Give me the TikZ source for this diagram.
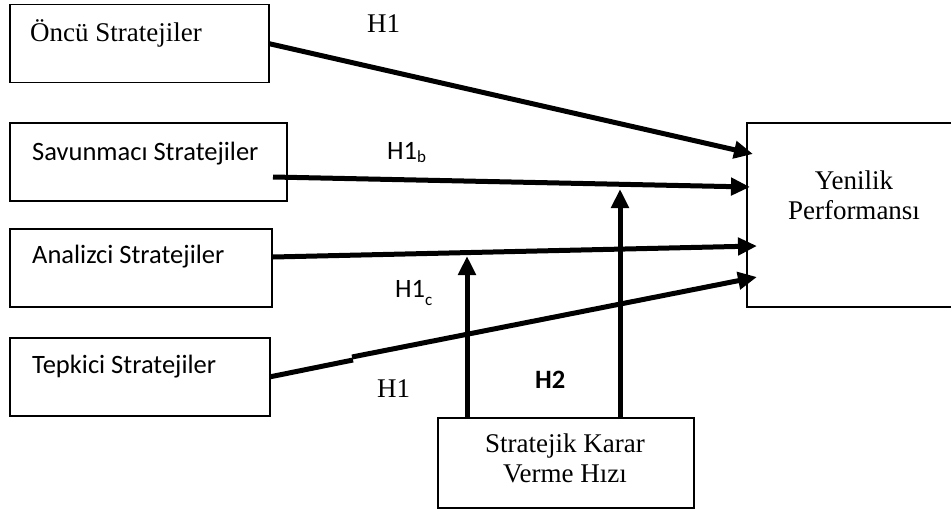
\documentclass[tikz,border=0pt]{standalone}
\usepackage{fontspec}
\setmainfont{Liberation Serif}
\newfontfamily\calib{Carlito}
\usetikzlibrary{arrows.meta,calc}
\begin{document}
\begin{tikzpicture}[x=1pt,y=-1pt,
  box/.style={draw,line width=1.5pt,inner sep=0pt},
  arr/.style={line width=5pt,-{Triangle[length=19pt,width=17pt]}},
  plain/.style={line width=5pt},
  ser/.style={font=\fontsize{27}{30}\selectfont,inner sep=0pt},
  san/.style={font=\calib\fontsize{26.5}{30}\selectfont,inner sep=0pt},
  sanb/.style={font=\calib\bfseries\fontsize{26.5}{30}\selectfont,inner sep=0pt}]
\useasboundingbox (0,0) rectangle (951,511);
% boxes
\node[box,minimum width=259pt,minimum height=78pt,anchor=north west] (onc) at (9,4) {};
\node[box,minimum width=277pt,minimum height=78pt,anchor=north west] (sav) at (9,122) {};
\node[box,minimum width=262pt,minimum height=78pt,anchor=north west] (ana) at (9,228) {};
\node[box,minimum width=260pt,minimum height=78pt,anchor=north west] (tep) at (9,337) {};
\node[box,minimum width=210pt,minimum height=184pt,anchor=north west] (yen) at (746,122) {};
\node[box,minimum width=256pt,minimum height=90pt,anchor=north west] (skv) at (437,417) {};
% box texts
\node[ser,anchor=base west] (tonc) at (30,42) {Öncü Stratejiler};
\node[san,anchor=base west] (tsav) at (32,160) {Savunmacı Stratejiler};
\node[san,anchor=base west] (tana) at (32,263) {Analizci Stratejiler};
\node[san,anchor=base west] (ttep) at (32,373) {Tepkici Stratejiler};
\node[ser,anchor=base,align=center] (tyen) at (854,219) {Yenilik\\Performansı};
\node[ser,anchor=base,align=center] (tskv) at (565,482) {Stratejik Karar\\Verme Hızı};
% labels
\node[ser,anchor=base west] (h1a) at (367,33) {H1};
\node[san,anchor=base west] (h1b) at (387,159) {H1\raisebox{-3pt}{\fontsize{17}{17}\selectfont b}};
\node[san,anchor=base west] (h1c) at (395,297) {H1\raisebox{-8pt}{\fontsize{17}{17}\selectfont c}};
\node[ser,anchor=base west] (h1d) at (377,397) {H1};
\node[sanb,anchor=base west] (h2) at (535,388) {H2};
% coordinates
\coordinate (s1) at (273,177);
\coordinate (s2) at (273,257);
\coordinate (e1) at (753,154);
\coordinate (e2) at (750,187);
\coordinate (e3) at (757,246);
\coordinate (e4) at (757,277);
\coordinate (k1) at (353,360);
\coordinate (k2) at (352,357);
\coordinate (v1s) at (467,419);
\coordinate (v1e) at (467,256);
\coordinate (v2s) at (620,419);
\coordinate (v2e) at (620,189);
% arrows
\draw[arr] (onc.east) -- (e1);
\draw[arr] (s1) -- (e2);
\draw[arr] (s2) -- (e3);
\draw[plain] (tep.east) -- (k1);
\draw[arr] (k2) -- (e4);
\draw[arr] (v1s) -- (v1e);
\draw[arr] (v2s) -- (v2e);
\end{tikzpicture}
\end{document}
